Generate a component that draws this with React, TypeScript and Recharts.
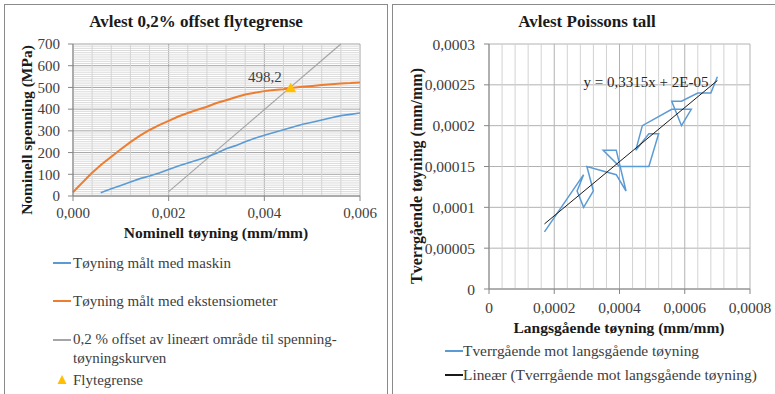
import React from 'react';
import {
  ComposedChart,
  Line,
  Scatter,
  XAxis,
  YAxis,
  CartesianGrid,
  ReferenceLine,
} from 'recharts';

const FONT = '"Liberation Serif", "Times New Roman", serif';

// ---------- Left chart: 0,2 % offset ----------
const extStrain = [0, 0.0001, 0.0002, 0.0003, 0.0004, 0.0005, 0.0006, 0.0008, 0.001, 0.0012, 0.0014, 0.0016, 0.0018, 0.002, 0.0022, 0.0024, 0.0026, 0.0028, 0.003, 0.0032, 0.0034, 0.0036, 0.0038, 0.004, 0.0042, 0.0044, 0.0046, 0.0048, 0.005, 0.0052, 0.0054, 0.0056, 0.0058, 0.006];
const extStress = [17, 40, 63, 85, 107, 127, 146, 181, 215, 248, 278, 304, 326, 346, 366, 382, 397, 411, 428, 441, 455, 467, 475, 483, 488, 492, 498, 503, 507, 511, 515, 518, 520, 523];

const machStrain = [0.00058, 0.0007, 0.0008, 0.001, 0.0012, 0.0014, 0.0016, 0.0018, 0.002, 0.0022, 0.0024, 0.0026, 0.0028, 0.003, 0.0032, 0.0034, 0.0036, 0.0038, 0.004, 0.0042, 0.0044, 0.0046, 0.0048, 0.005, 0.0052, 0.0054, 0.0056, 0.0058, 0.006];
const machStress = [15, 25, 33, 48, 64, 80, 92, 106, 122, 138, 152, 166, 180, 197, 218, 232, 250, 266, 280, 292, 305, 318, 330, 340, 350, 360, 370, 376, 382];

const offsetStrain = [0.002, 0.0056];
const offsetStress = [20, 700];

const yieldStrain = [0.00455];
const yieldStress = [498.2];
const yieldLabels = ['498,2'];

const leftXTicks = [0, 0.002, 0.004, 0.006];
const leftYTicks = [0, 100, 200, 300, 400, 500, 600, 700];

// ---------- Right chart: Poisson ----------
const longStrain = [0.00017, 0.00029, 0.00027, 0.00029, 0.00032, 0.0003, 0.00039, 0.00042, 0.00039, 0.00035, 0.0004, 0.00049, 0.00052, 0.00049, 0.00045, 0.00047, 0.00056, 0.00062, 0.00059, 0.00056, 0.00059, 0.00064, 0.00068, 0.0007];
const transStrain = [0.00007, 0.00014, 0.00012, 0.0001, 0.00012, 0.00015, 0.00014, 0.00012, 0.00017, 0.00017, 0.00015, 0.00015, 0.00019, 0.00019, 0.00017, 0.0002, 0.00022, 0.00022, 0.0002, 0.00023, 0.00023, 0.00024, 0.00024, 0.00026];

const trendX = [0.00017, 0.0007];
const trendY = [0.0000797, 0.0002553];
const trendEquation = 'y = 0,3315x + 2E-05';

const rightXTicks = [0, 0.0002, 0.0004, 0.0006, 0.0008];
const rightYTicks = [0, 0.00005, 0.0001, 0.00015, 0.0002, 0.00025, 0.0003];

const zip = (xs: number[], ys: number[]) => xs.map((x, i) => ({ x, y: ys[i] }));

const extRows = zip(extStrain, extStress);
const machRows = zip(machStrain, machStress);
const offsetRows = zip(offsetStrain, offsetStress);
const yieldRows = yieldStrain.map((x, i) => ({ x, y: yieldStress[i], label: yieldLabels[i] }));
const poissonRows = zip(longStrain, transStrain);
const trendRows = zip(trendX, trendY);

const leftMinorY = Array.from({ length: 69 }, (_, i) => (i + 1) * 10).filter((v) => v % 100 !== 0);
const leftMinorX = Array.from({ length: 14 }, (_, i) => i + 1).filter((i) => i % 5 !== 0).map((i) => i * 0.0004);
const rightMinorX = Array.from({ length: 19 }, (_, i) => i + 1).filter((i) => i % 5 !== 0).map((i) => i * 0.00004);

const TICK_COLOR = '#404040';
const AXIS_COLOR = '#868686';

const YieldShape = (p: any) => {
  const { cx, cy, payload } = p;
  return (
    <g>
      <polygon
        points={`${cx},${cy - 5} ${cx - 5.5},${cy + 4.5} ${cx + 5.5},${cy + 4.5}`}
        fill="#ffc000"
      />
      <text x={cx - 9} y={cy - 6} textAnchor="end" fontFamily={FONT} fontSize={15} fill={TICK_COLOR}>
        {payload.label}
      </text>
    </g>
  );
};

const abs = (left: number, top: number, extra: React.CSSProperties = {}): React.CSSProperties => ({
  position: 'absolute',
  left,
  top,
  whiteSpace: 'nowrap',
  ...extra,
});

const centered = (cx: number, cy: number, extra: React.CSSProperties = {}): React.CSSProperties => ({
  position: 'absolute',
  left: cx,
  top: cy,
  transform: 'translate(-50%, -50%)',
  whiteSpace: 'nowrap',
  ...extra,
});

const LegendRow = ({ x, y, color, text, marker }: { x: number; y: number; color: string; text: React.ReactNode; marker?: 'line' | 'triangle' }) => (
  <div style={abs(x, y - 10, { display: 'flex', alignItems: 'flex-start' })}>
    <div style={{ width: 18, height: 20, position: 'relative' }}>
      {marker === 'triangle' ? (
        <svg width={18} height={20} style={{ position: 'absolute', left: 0, top: 0 }}>
          <polygon points="9,5 4.5,14 13.5,14" fill={color} />
        </svg>
      ) : (
        <div style={{ position: 'absolute', left: 0, top: 9, width: 18, height: 2, background: color }} />
      )}
    </div>
  </div>
);

export default function App() {
  const tickStyleL = { fontFamily: FONT, fontSize: 15, fill: TICK_COLOR };
  const tickStyleR = { fontFamily: FONT, fontSize: 15.5, fill: TICK_COLOR };
  const fmtL = (v: number) => v.toFixed(3).replace('.', ',');
  const fmtR = (v: number) => String(v).replace('.', ',');

  return (
    <div
      style={{
        position: 'fixed',
        left: 0,
        top: 0,
        width: 775,
        height: 394,
        background: '#fff',
        overflow: 'hidden',
        fontFamily: FONT,
        color: TICK_COLOR,
      }}
    >
      {/* panel borders */}
      <div style={{ position: 'absolute', left: 4, top: 4, width: 382, height: 420, border: '1px solid #8a8a8a' }} />
      <div style={{ position: 'absolute', left: 392, top: 4, width: 420, height: 420, border: '1px solid #8a8a8a' }} />

      {/* ---------- LEFT CHART ---------- */}
      <div style={abs(0, 0)}>
        <ComposedChart width={387} height={260} margin={{ top: 44, right: 27, bottom: 34, left: 13 }}>
          {leftMinorY.map((v) => (
            <ReferenceLine key={'ly' + v} y={v} stroke="#dadada" strokeWidth={1} />
          ))}
          {leftMinorX.map((v) => (
            <ReferenceLine key={'lx' + v} x={v} stroke="#d4d4d4" strokeWidth={1} />
          ))}
          <CartesianGrid stroke="#a4a4a4" />
          <XAxis
            type="number"
            dataKey="x"
            domain={[0, 0.006]}
            ticks={leftXTicks}
            tickFormatter={fmtL}
            tick={tickStyleL}
            tickSize={5}
            tickMargin={6}
            height={30}
            stroke={AXIS_COLOR}
            interval={0}
          />
          <YAxis
            type="number"
            domain={[0, 700]}
            ticks={leftYTicks}
            tick={tickStyleL}
            tickSize={5}
            tickMargin={8}
            width={60}
            stroke={AXIS_COLOR}
            interval={0}
          />
          <Line data={offsetRows} dataKey="y" stroke="#a5a5a5" strokeWidth={1.2} dot={false} isAnimationActive={false} />
          <Line data={machRows} dataKey="y" stroke="#5b9bd5" strokeWidth={1.6} dot={false} isAnimationActive={false} />
          <Line data={extRows} dataKey="y" stroke="#ed7d31" strokeWidth={2} dot={false} isAnimationActive={false} />
          <Scatter data={yieldRows} dataKey="y" shape={YieldShape} isAnimationActive={false} />
        </ComposedChart>
      </div>

      <div style={centered(196, 22, { fontSize: 17, fontWeight: 'bold', color: '#1a1a1a' })}>
        Avlest 0,2% offset flytegrense
      </div>
      <div style={centered(27, 130, { fontSize: 15.5, fontWeight: 'bold', color: '#1a1a1a', transform: 'translate(-50%, -50%) rotate(-90deg)' })}>
        Nominell spenning (MPa)
      </div>
      <div style={centered(216, 233, { fontSize: 15.5, fontWeight: 'bold', color: '#1a1a1a' })}>
        Nominell tøyning (mm/mm)
      </div>

      {/* left legend */}
      <LegendRow x={53} y={263} color="#5b9bd5" text="" />
      <div style={abs(73, 253, { fontSize: 15, lineHeight: '20px' })}>Tøyning målt med maskin</div>
      <LegendRow x={53} y={301} color="#ed7d31" text="" />
      <div style={abs(73, 291, { fontSize: 15, lineHeight: '20px' })}>Tøyning målt med ekstensiometer</div>
      <LegendRow x={53} y={340} color="#a5a5a5" text="" />
      <div style={abs(73, 330, { fontSize: 15, lineHeight: '18.5px' })}>
        0,2 % offset av lineært område til spenning-
        <br />
        tøyningskurven
      </div>
      <LegendRow x={53} y={380} color="#ffc000" text="" marker="triangle" />
      <div style={abs(73, 370, { fontSize: 15, lineHeight: '20px' })}>Flytegrense</div>

      {/* ---------- RIGHT CHART ---------- */}
      <div style={abs(392, 0)}>
        <ComposedChart width={383} height={320} margin={{ top: 44, right: 25, bottom: 6, left: 17 }}>
          {rightMinorX.map((v) => (
            <ReferenceLine key={'rx' + v} x={v} stroke="#d2d2d2" strokeWidth={1} />
          ))}
          <CartesianGrid stroke="#b2b2b2" />
          <XAxis
            type="number"
            dataKey="x"
            domain={[0, 0.0008]}
            ticks={rightXTicks}
            tickFormatter={fmtR}
            tick={tickStyleR}
            tickSize={5}
            tickMargin={8}
            height={25}
            stroke={AXIS_COLOR}
            interval={0}
          />
          <YAxis
            type="number"
            domain={[0, 0.0003]}
            ticks={rightYTicks}
            tickFormatter={fmtR}
            tick={tickStyleR}
            tickSize={5}
            tickMargin={9}
            width={80}
            stroke={AXIS_COLOR}
            interval={0}
          />
          <Line data={poissonRows} dataKey="y" stroke="#5b9bd5" strokeWidth={1.5} dot={false} isAnimationActive={false} />
          <Line data={trendRows} dataKey="y" stroke="#1a1a1a" strokeWidth={1} dot={false} isAnimationActive={false} />
        </ComposedChart>
      </div>

      <div style={centered(587, 22, { fontSize: 17, fontWeight: 'bold', color: '#1a1a1a' })}>Avlest Poissons tall</div>
      <div style={centered(417, 176, { fontSize: 16, fontWeight: 'bold', color: '#1a1a1a', transform: 'translate(-50%, -50%) rotate(-90deg)' })}>
        Tverrgående tøyning (mm/mm)
      </div>
      <div style={centered(619, 328, { fontSize: 15.5, fontWeight: 'bold', color: '#1a1a1a' })}>
        Langsgående tøyning (mm/mm)
      </div>
      <div style={centered(646, 82, { fontSize: 15, color: '#262626' })}>{trendEquation}</div>

      {/* right legend */}
      <LegendRow x={445} y={351} color="#5b9bd5" text="" />
      <div style={abs(463, 341, { fontSize: 15.4, lineHeight: '20px' })}>Tverrgående mot langsgående tøyning</div>
      <LegendRow x={445} y={375} color="#1a1a1a" text="" />
      <div style={abs(463, 365, { fontSize: 15.4, lineHeight: '20px' })}>Lineær (Tverrgående mot langsgående tøyning)</div>
    </div>
  );
}
